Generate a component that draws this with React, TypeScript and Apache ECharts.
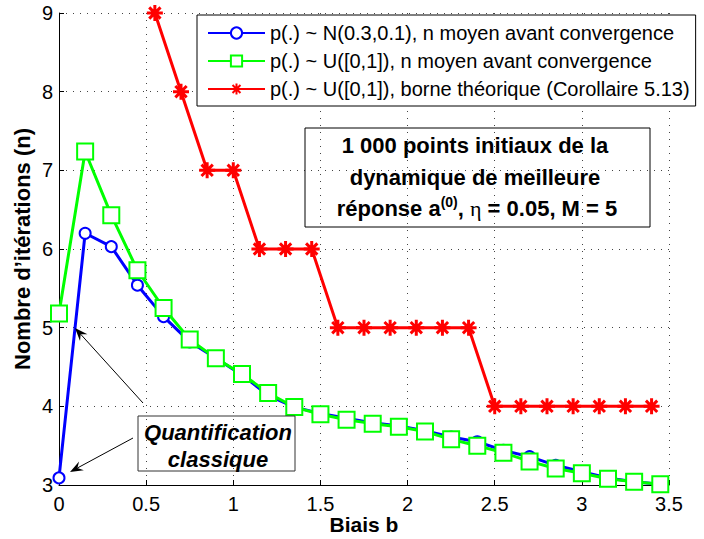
import React, { useEffect, useRef } from 'react';
import * as echarts from 'echarts';

const biais = [0, 0.15, 0.3, 0.45, 0.6, 0.75, 0.9, 1.05, 1.2, 1.35, 1.5, 1.65, 1.8, 1.95, 2.1, 2.25, 2.4, 2.55, 2.7, 2.85, 3.0, 3.15, 3.3, 3.45];
const nNormal = [3.09, 6.2, 6.03, 5.54, 5.14, 4.82, 4.61, 4.4, 4.14, 3.99, 3.91, 3.85, 3.79, 3.75, 3.69, 3.61, 3.55, 3.44, 3.36, 3.25, 3.17, 3.09, 3.04, 3.01];
const nUniform = [5.18, 7.24, 6.43, 5.73, 5.25, 4.85, 4.61, 4.41, 4.17, 3.99, 3.9, 3.83, 3.78, 3.74, 3.68, 3.58, 3.5, 3.41, 3.3, 3.21, 3.15, 3.08, 3.04, 3.01];
const biaisBorne = [0.55, 0.7, 0.85, 1.0, 1.15, 1.3, 1.45, 1.6, 1.75, 1.9, 2.05, 2.2, 2.35, 2.5, 2.65, 2.8, 2.95, 3.1, 3.25, 3.4];
const nBorne = [9, 8, 7, 7, 6, 6, 6, 5, 5, 5, 5, 5, 5, 4, 4, 4, 4, 4, 4, 4];

const seriesNames = [
  'p(.) ~ N(0.3,0.1), n moyen avant convergence',
  'p(.) ~ U([0,1]), n moyen avant convergence',
  'p(.) ~ U([0,1]), borne théorique (Corollaire 5.13)',
];
const xAxisTitle = 'Biais b';
const yAxisTitle = 'Nombre d’itérations (n)';
const noteLines = ['1 000 points initiaux de la', 'dynamique de meilleure'];
const noteLine3 = 'réponse a{sup|(0)}{n|, }{eta|η}{n| = 0.05, M = 5}';
const quantLines = 'Quantification\nclassique';

const FONT = '"Liberation Sans", Arial, Helvetica, sans-serif';
const ASTERISK = 'path://M0,-10L0,10M-10,0L10,0M-7.07,-7.07L7.07,7.07M-7.07,7.07L7.07,-7.07';

function arrow(x1: number, y1: number, x2: number, y2: number) {
  const dx = x2 - x1, dy = y2 - y1;
  const L = Math.hypot(dx, dy);
  const ux = dx / L, uy = dy / L;
  const len = 13, w = 5;
  const bx = x2 - ux * len, by = y2 - uy * len;
  const nx = -uy, ny = ux;
  const nxp = x2 - ux * len * 0.65, nyp = y2 - uy * len * 0.65;
  return [
    { type: 'line', shape: { x1, y1, x2: nxp, y2: nyp }, style: { stroke: '#000', lineWidth: 1 }, z: 100 },
    {
      type: 'polygon',
      shape: { points: [[x2, y2], [bx + nx * w, by + ny * w], [nxp, nyp], [bx - nx * w, by - ny * w]] },
      style: { fill: '#000' },
      z: 100,
    },
  ];
}

export default function App() {
  const ref = useRef<HTMLDivElement>(null);
  useEffect(() => {
    if (!ref.current) return;
    const chart = echarts.init(ref.current, undefined, { renderer: 'svg' });
    const gridLine = { show: true, lineStyle: { color: '#444', width: 1, type: [1, 6] as any } };
    chart.setOption({
      animation: false,
      backgroundColor: '#fff',
      textStyle: { fontFamily: FONT },
      grid: { left: 59, right: 35, top: 13, bottom: 54, containLabel: false, outerBoundsMode: 'none' },
      xAxis: {
        type: 'value', min: 0, max: 3.5, interval: 0.5,
        name: xAxisTitle, nameLocation: 'middle', nameGap: 29, nameMoveOverlap: false,
        nameTextStyle: { fontSize: 21, fontWeight: 'bold', color: '#000', fontFamily: FONT },
        axisLine: { show: true, onZero: false, lineStyle: { color: '#000', width: 1 } },
        axisTick: { show: true, inside: true, length: 5, lineStyle: { color: '#000' } },
        axisLabel: { fontSize: 20, color: '#000', margin: 9, fontFamily: FONT },
        splitLine: gridLine,
      },
      yAxis: {
        type: 'value', min: 3, max: 9, interval: 1,
        name: yAxisTitle, nameLocation: 'middle', nameGap: 26, nameRotate: 90, nameMoveOverlap: false,
        nameTextStyle: { fontSize: 22, fontWeight: 'bold', color: '#000', fontFamily: FONT },
        axisLine: { show: true, onZero: false, lineStyle: { color: '#000', width: 1 } },
        axisTick: { show: true, inside: true, length: 5, lineStyle: { color: '#000' } },
        axisLabel: { fontSize: 20, color: '#000', margin: 6, fontFamily: FONT },
        splitLine: gridLine,
      },
      legend: {
        orient: 'vertical', left: 197, top: 15,
        backgroundColor: '#fff', borderColor: '#000', borderWidth: 1,
        padding: [8, 6, 7, 10], itemGap: 8, itemWidth: 57, itemHeight: 14,
        textStyle: { fontSize: 20, color: '#000', fontFamily: FONT },
        data: seriesNames,
      },
      series: [
        {
          name: seriesNames[0], type: 'line',
          data: biais.map((b, i) => [b, nNormal[i]]),
          color: '#0000ff', lineStyle: { width: 3, color: '#0000ff' },
          symbol: 'emptyCircle', symbolSize: 11,
          itemStyle: { color: '#0000ff', borderColor: '#0000ff', borderWidth: 3 },
          z: 2,
        },
        {
          name: seriesNames[1], type: 'line',
          data: biais.map((b, i) => [b, nUniform[i]]),
          color: '#00ff00', lineStyle: { width: 3, color: '#00ff00' },
          symbol: 'emptyRect', symbolSize: 16,
          itemStyle: { color: '#00ff00', borderColor: '#00ff00', borderWidth: 3 },
          z: 3,
        },
        {
          name: seriesNames[2], type: 'line',
          data: biaisBorne.map((b, i) => [b, nBorne[i]]),
          color: '#ff0000', lineStyle: { width: 3, color: '#ff0000' },
          symbol: ASTERISK, symbolSize: 16,
          itemStyle: { color: '#ff0000', borderColor: '#ff0000', borderWidth: 3 },
          clip: false,
          z: 4,
        },
      ],
      graphic: [
        { type: 'rect', shape: { x: 305, y: 128, width: 345, height: 99 }, style: { fill: 'none', stroke: '#000', lineWidth: 1 }, z: 90 },
        { type: 'text', x: 475, y: 145, style: { text: noteLines[0], font: `bold 22px ${FONT}`, fill: '#000', align: 'center', verticalAlign: 'middle' }, z: 91 },
        { type: 'text', x: 475, y: 177, style: { text: noteLines[1], font: `bold 22px ${FONT}`, fill: '#000', align: 'center', verticalAlign: 'middle' }, z: 91 },
        {
          type: 'text', x: 477, y: 208, z: 91,
          style: {
            text: noteLine3, font: `bold 22px ${FONT}`, fill: '#000', align: 'center', verticalAlign: 'middle',
            rich: {
              sup: { fontSize: 14, fontWeight: 'bold', fontFamily: FONT, verticalAlign: 'top', lineHeight: 14, fill: '#000', color: '#000' },
              eta: { fontSize: 22, fontWeight: 'normal', fontFamily: '"Liberation Serif", serif', lineHeight: 26, fill: '#000', color: '#000' },
              n: { fontSize: 22, fontWeight: 'bold', fontFamily: FONT, lineHeight: 26, fill: '#000', color: '#000' },
            },
          },
        },
        { type: 'rect', shape: { x: 138, y: 416, width: 157, height: 55 }, style: { fill: 'none', stroke: '#333', lineWidth: 1 }, z: 90 },
        {
          type: 'text', x: 218, y: 446, z: 91,
          style: { text: quantLines, font: `italic bold 22px ${FONT}`, fill: '#000', align: 'center', verticalAlign: 'middle', lineHeight: 27 },
        },
        ...arrow(143, 403, 75, 328),
        ...arrow(133, 438, 70, 472),
      ],
    });
    return () => chart.dispose();
  }, []);
  return <div ref={ref} style={{ position: 'absolute', left: 0, top: 0, width: 704, height: 539 }} />;
}
